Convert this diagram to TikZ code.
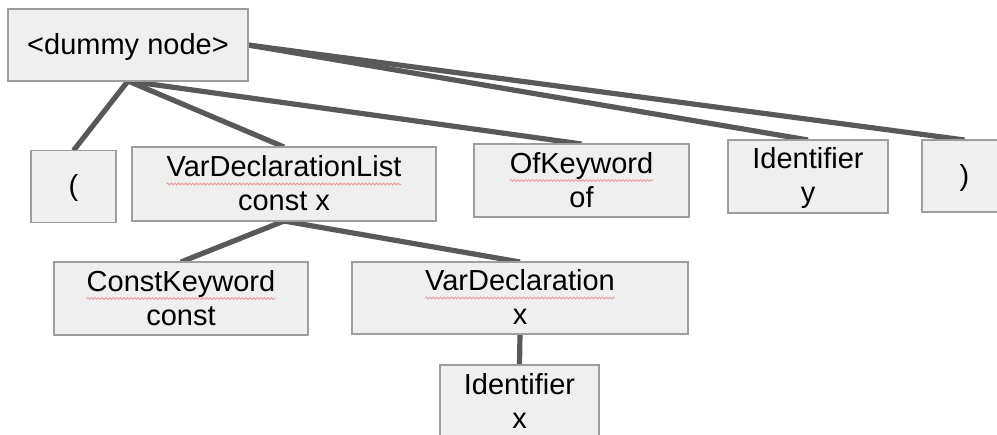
\documentclass[tikz,border=0pt]{standalone}
\usepackage{fontspec}
\setmainfont{Liberation Sans}
\usetikzlibrary{backgrounds,decorations.pathmorphing}

\definecolor{boxfill}{HTML}{EFEFEF}
\definecolor{boxline}{HTML}{9E9E9E}
\definecolor{edgecol}{HTML}{595959}
\definecolor{spellred}{HTML}{EC9C9C}

% fixed line box so every text line sits at the same height
\newcommand\lnstrut{\rule[-5pt]{0pt}{30pt}}
% word with a red wavy spell-check underline
\newcommand\wavy[1]{\tikz[baseline=0pt]{%
  \node[draw=none,fill=none,inner sep=0pt,outer sep=0pt,minimum width=0pt,
        minimum height=0pt,anchor=base west] (w) at (0pt,0pt) {#1};
  \draw[spell] ([yshift=-7pt]w.base west) -- ([yshift=-7pt]w.base east);}}

\tikzset{
  treebox/.style={draw=boxline, fill=boxfill, line width=1.6pt, rectangle,
    inner sep=0pt, outer sep=0pt, align=center,
    font=\fontsize{29}{34}\selectfont},
  edge/.style={draw=edgecol, line width=5.2pt},
  spell/.style={draw=spellred, line width=0.9pt, decorate,
    decoration={snake, amplitude=0.9pt, segment length=3.6pt}}
}

\begin{document}
\begin{tikzpicture}[x=1pt, y=-1pt]
\useasboundingbox (0,0) rectangle (997,435);

% root
\node[treebox, minimum width=240pt, minimum height=72pt] (root) at (128,45)
  {\lnstrut<dummy node>};

% first level
\node[treebox, minimum width=85pt, minimum height=72pt] (lpar) at (73.5,186.5)
  {\lnstrut(};
\node[treebox, minimum width=304pt, minimum height=74pt] (vdl) at (284,184)
  {\lnstrut\wavy{VarDeclarationList}\\\lnstrut const x};
\node[treebox, minimum width=215pt, minimum height=73pt] (ofk) at (581.5,180.5)
  {\lnstrut\wavy{OfKeyword}\\\lnstrut of};
\node[treebox, minimum width=160pt, minimum height=73pt] (idy) at (808,176.5)
  {\lnstrut Identifier\\\lnstrut y};
\node[treebox, minimum width=85pt, minimum height=72pt] (rpar) at (964.5,176)
  {\lnstrut)};

% second level
\node[treebox, minimum width=254pt, minimum height=73pt] (ck) at (181,298.5)
  {\lnstrut\wavy{ConstKeyword}\\\lnstrut const};
\node[treebox, minimum width=336pt, minimum height=72pt] (vd) at (520,298)
  {\lnstrut\wavy{VarDeclaration}\\\lnstrut x};

% third level
\node[treebox, minimum width=159pt, minimum height=73pt] (idx) at (519.5,401.5)
  {\lnstrut Identifier\\\lnstrut x};

% connectors behind the boxes
\begin{pgfonlayer}{background}
  \draw[edge] (root.south) -- (lpar.north);
  \draw[edge] (root.south) -- (vdl.north);
  \draw[edge] (root.south) -- (ofk.north);
  \draw[edge] (root.east) -- (idy.north);
  \draw[edge] (root.east) -- (rpar.north);
  \draw[edge] (vdl.south) -- (ck.north);
  \draw[edge] (vdl.south) -- (vd.north);
  \draw[edge] (vd.south) -- (idx.north);
\end{pgfonlayer}
\end{tikzpicture}
\end{document}
